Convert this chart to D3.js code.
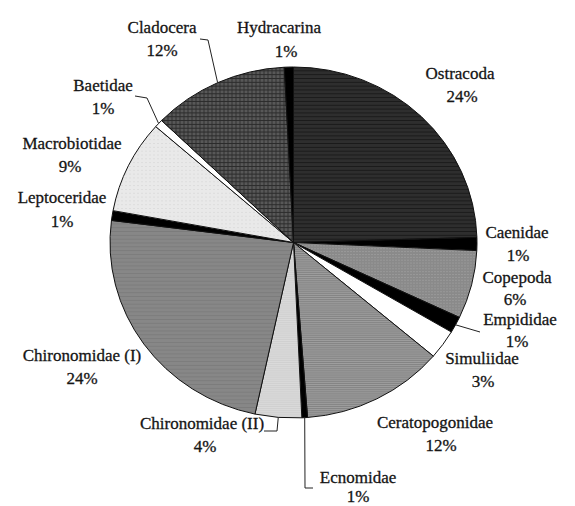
<!DOCTYPE html>
<html>
<head>
<meta charset="utf-8">
<script src="https://cdn.jsdelivr.net/npm/d3@7"></script>
<style>
  html, body { margin: 0; padding: 0; background: #fff; }
  svg { display: block; }
</style>
</head>
<body>
<svg id="chart" width="575" height="506"></svg>
<script>
// ---- data (clockwise from 12 o'clock) ----
const categories = ["Ostracoda", "Caenidae", "Copepoda", "Empididae", "Simuliidae",
  "Ceratopogonidae", "Ecnomidae", "Chironomidae (II)", "Chironomidae (I)",
  "Leptoceridae", "Macrobiotidae", "Baetidae", "Cladocera", "Hydracarina"];
// shares
const shares = [24.6, 1.2, 6.3, 1.5, 2.7, 12.6, 0.5, 4.1, 23.7, 0.9, 8.6, 0.75, 12.0, 0.8];
const percentLabels = ["24%", "1%", "6%", "1%", "3%", "12%", "1%", "4%", "24%", "1%", "9%", "1%", "12%", "1%"];

// ---- layout / style ----
const cx = 293.5, cy = 242.5, rx = 183.5, ry = 175.5;
const fills = ["url(#pOstra)", "#000", "url(#pCope)", "#000", "#fff",
  "url(#pCera)", "#000", "url(#pChir2)", "url(#pChir1)",
  "#000", "url(#pMacro)", "#fff", "url(#pClado)", "#000"];
// label centres: [name x, name y, pct x, pct y]
const labelPos = [
  [460, 73, 462, 96], [517, 232, 518, 255], [517, 277, 515, 299], [520, 319, 517, 341],
  [482, 358, 483, 381], [435, 422, 441, 445], [358, 477, 358, 496], [202, 423, 205, 446],
  [82, 355, 82, 378], [62, 197, 62, 221], [72, 143, 70, 166], [103, 85, 103, 108],
  [162, 27, 162, 50], [279, 27, 286, 51]
];
// leader elbows (after the slice edge point)
const leaders = {
  3: [[480, 332]],
  6: [[305, 488], [313, 488]],
  7: [[277, 431], [264, 431]],
  11: [[147, 98], [135, 96]],
  12: [[208, 40], [200, 39]]
};

const svg = d3.select("#chart");
const defs = svg.append("defs");

function pat(id, w, h, bg, build) {
  const p = defs.append("pattern").attr("id", id).attr("patternUnits", "userSpaceOnUse")
    .attr("width", w).attr("height", h);
  p.append("rect").attr("width", w).attr("height", h).attr("fill", bg);
  build(p);
}
pat("pOstra", 6, 4, "#2e2e2e", p => {
  p.append("rect").attr("y", 0).attr("width", 6).attr("height", 1).attr("fill", "#1a1a1a");
});
pat("pClado", 4, 4, "#454545", p => {
  p.append("rect").attr("x", 0).attr("width", 1).attr("height", 4).attr("fill", "#6a6a6a");
  p.append("rect").attr("y", 0).attr("width", 4).attr("height", 1).attr("fill", "#2a2a2a");
});
pat("pCope", 3, 3, "#8a8a8a", p => {
  p.append("rect").attr("width", 1).attr("height", 1).attr("fill", "#a8a8a8");
});
pat("pCera", 2, 2, "#8c8c8c", p => {
  p.append("rect").attr("width", 1).attr("height", 1).attr("fill", "#b0b0b0");
  p.append("rect").attr("x", 1).attr("y", 1).attr("width", 1).attr("height", 1).attr("fill", "#7a7a7a");
});
pat("pChir2", 2, 2, "#d0d0d0", p => {
  p.append("rect").attr("width", 1).attr("height", 1).attr("fill", "#e4e4e4");
});
pat("pChir1", 4, 4, "#878787", p => {
  p.append("rect").attr("width", 4).attr("height", 1).attr("fill", "#7c7c7c");
});
pat("pMacro", 4, 4, "#e9e9e9", p => {
  p.append("rect").attr("width", 1).attr("height", 1).attr("fill", "#cfcfcf");
});

const pie = d3.pie().sort(null).value(d => d);
const arcs = pie(shares);
const arc = d3.arc().innerRadius(0).outerRadius(rx);

const g = svg.append("g").attr("transform", `translate(${cx},${cy}) scale(1,${ry / rx})`);
g.selectAll("path").data(arcs).enter().append("path")
  .attr("d", arc)
  .attr("fill", (d, i) => fills[i])
  .attr("stroke", "#111")
  .attr("stroke-width", 1)
  .attr("vector-effect", "non-scaling-stroke");

// leader lines
function edgePoint(d) {
  const a = (d.startAngle + d.endAngle) / 2;
  return [cx + rx * Math.sin(a), cy - ry * Math.cos(a)];
}
Object.keys(leaders).forEach(k => {
  const i = +k;
  const pts = [edgePoint(arcs[i])].concat(leaders[k]);
  svg.append("path").attr("d", d3.line()(pts))
    .attr("fill", "none").attr("stroke", "#222").attr("stroke-width", 1);
});

// labels
const lab = svg.append("g")
  .attr("font-family", "'Liberation Serif', 'DejaVu Serif', serif")
  .attr("font-size", 17)
  .attr("fill", "#151515")
  .attr("stroke", "#151515")
  .attr("stroke-width", 0.3);
categories.forEach((c, i) => {
  const p = labelPos[i];
  lab.append("text").attr("x", p[0]).attr("y", p[1]).attr("dy", "0.35em")
    .attr("text-anchor", "middle").text(c);
  lab.append("text").attr("x", p[2]).attr("y", p[3]).attr("dy", "0.35em")
    .attr("text-anchor", "middle").text(percentLabels[i]);
});
</script>
</body>
</html>
